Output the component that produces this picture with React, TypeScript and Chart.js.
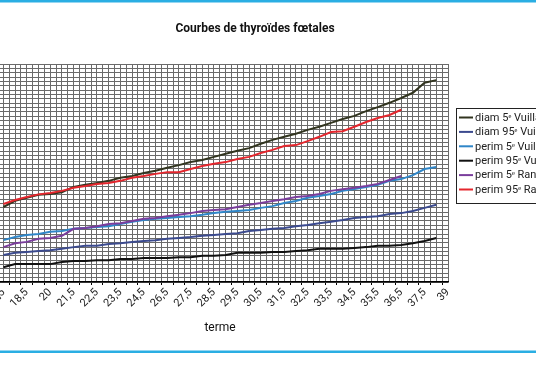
import React, { useEffect, useRef } from "react";
import { Chart, registerables } from "chart.js";

Chart.register(...registerables);

// Gestational age categories (weeks)
const categories = [
  "17.5", "18", "18.5", "19", "20", "21", "21.5", "22", "22.5", "23",
  "23.5", "24", "24.5", "25.5", "26.5", "27", "27.5", "28", "28.5", "29",
  "29.5", "30", "30.5", "31", "31.5", "32", "32.5", "33", "33.5", "34",
  "34.5", "35", "35.5", "36", "36.5", "37", "37.5", "38", "39",
];

const diam5Vuillard = [
  17.2, 18.6, 19.3, 20.0, 20.2, 20.6, 21.8, 22.3, 22.7, 23.2,
  23.9, 24.3, 25.0, 25.5, 26.2, 26.8, 27.5, 28.0, 28.7, 29.4,
  30.1, 30.7, 31.7, 32.6, 33.3, 34.0, 34.9, 35.6, 36.5, 37.4,
  38.1, 39.2, 40.1, 41.1, 42.2, 43.4, 45.7, 46.3,
];
const diam95Vuillard = [
  6.2, 6.7, 6.9, 7.1, 7.3, 7.6, 8.0, 8.3, 8.3, 8.7,
  8.9, 9.2, 9.4, 9.6, 9.9, 10.1, 10.3, 10.6, 10.8, 11.0,
  11.2, 11.7, 11.9, 12.2, 12.4, 12.8, 13.1, 13.5, 13.8, 14.2,
  14.7, 14.9, 15.1, 15.6, 15.8, 16.3, 17.0, 17.7,
];
const perim5Vuillard = [
  9.6, 10.3, 10.8, 11.0, 11.5, 11.7, 12.2, 12.4, 12.6, 12.8,
  13.3, 13.8, 14.2, 14.5, 14.7, 14.9, 15.1, 15.4, 15.8, 16.1,
  16.3, 16.5, 17.0, 17.4, 18.1, 18.6, 19.3, 19.7, 20.2, 20.9,
  21.3, 21.8, 22.3, 23.2, 23.6, 24.5, 25.9, 26.4,
];
const perim95Vuillard = [
  3.4, 4.1, 4.1, 4.1, 4.1, 4.6, 4.8, 4.8, 5.0, 5.0,
  5.3, 5.3, 5.5, 5.5, 5.5, 5.7, 5.7, 6.0, 6.0, 6.2,
  6.7, 6.7, 6.7, 6.9, 6.9, 7.1, 7.3, 7.6, 7.6, 7.6,
  7.8, 8.0, 8.3, 8.3, 8.5, 8.9, 9.4, 10.1,
];
const perim5Ranzini = [
  8.0, 8.9, 9.2, 9.9, 10.1, 10.6, 12.2, 12.4, 12.8, 13.3,
  13.5, 14.0, 14.5, 14.7, 15.1, 15.4, 15.8, 16.3, 16.5, 16.7,
  17.2, 17.7, 18.1, 18.6, 19.0, 19.5, 19.7, 20.2, 20.9, 21.3,
  21.6, 22.0, 22.5, 23.4, 24.3,
];
const perim95Ranzini = [
  17.9, 18.8, 19.5, 20.1, 20.4, 20.9, 21.6, 22.0, 22.5, 22.7,
  23.2, 23.9, 24.3, 24.8, 25.2, 25.2, 25.9, 26.6, 27.1, 27.5,
  28.2, 28.7, 29.6, 30.3, 31.2, 31.4, 32.3, 33.3, 34.4, 34.6,
  35.6, 36.7, 37.6, 38.3, 39.5,
];

const seriesLabels = [
  "diam 5ᵉ Vuillard",
  "diam 95ᵉ Vuillard",
  "perim 5ᵉ Vuillard",
  "perim 95ᵉ Vuillard",
  "perim 5ᵉ Ranzini",
  "perim 95ᵉ Ranzini",
];
const seriesValues = [
  diam5Vuillard,
  diam95Vuillard,
  perim5Vuillard,
  perim95Vuillard,
  perim5Ranzini,
  perim95Ranzini,
];
const seriesColors = ["#31341f", "#3b4a8e", "#2f86c8", "#111111", "#7a3d9c", "#e4262d"];

const TITLE = "Courbes de thyroïdes fœtales";
const X_TITLE = "terme";

const decorPlugin = {
  id: "decor",
  afterDraw(chart: any) {
    const ctx = chart.ctx as CanvasRenderingContext2D;
    ctx.save();
    // cyan frame lines
    ctx.fillStyle = "#2aaee3";
    ctx.fillRect(0, 0, 536, 2.5);
    ctx.fillRect(0, 350.5, 536, 2.5);

    // title
    ctx.fillStyle = "#111";
    ctx.font = "bold 12px Roboto";
    ctx.textAlign = "center";
    ctx.textBaseline = "middle";
    ctx.fillText(TITLE, 255, 29);

    // x axis title
    ctx.font = "12px Roboto";
    ctx.fillText(X_TITLE, 220, 328);

    // legend box
    ctx.strokeStyle = "#222";
    ctx.lineWidth = 1;
    ctx.strokeRect(456.5, 108.5, 100, 95);
    ctx.font = "11px Roboto";
    ctx.textAlign = "left";
    chart.data.datasets.forEach((ds: any, i: number) => {
      const y = 117.5 + i * 14.4;
      ctx.strokeStyle = ds.borderColor;
      ctx.lineWidth = 2;
      ctx.beginPath();
      ctx.moveTo(459, y);
      ctx.lineTo(473, y);
      ctx.stroke();
      ctx.fillStyle = "#222";
      ctx.fillText(ds.label, 475, y + 0.5);
    });
    ctx.restore();
  },
};

export default function App() {
  const ref = useRef<HTMLCanvasElement>(null);
  useEffect(() => {
    const canvas = ref.current;
    if (!canvas) return;
    const datasets = seriesLabels.map((label, k) => ({
      label,
      data: seriesValues[k].map((v, i) => ({ x: i, y: v })),
      borderColor: seriesColors[k],
      backgroundColor: seriesColors[k],
      borderWidth: 2,
      pointRadius: 0,
      tension: 0,
      fill: false,
      order: 10 - k,
    }));
    const chart = new Chart(canvas, {
      type: "line",
      data: { datasets },
      options: {
        responsive: false,
        animation: false,
        devicePixelRatio: 1,
        layout: { padding: { top: 64, right: 88, bottom: 0, left: 0 } },
        plugins: {
          legend: { display: false },
          tooltip: { enabled: false },
          title: { display: false },
        },
        scales: {
          x: {
            type: "linear",
            min: -0.29,
            max: 38,
            grid: {
              color: "#6a6a6a",
              lineWidth: 1,
              tickLength: 3,
              tickColor: (c: any) =>
                c.tick && Math.abs(c.tick.value - Math.round(c.tick.value)) < 1e-6
                  ? "rgba(0,0,0,0)"
                  : "#000",
            },
            border: { color: "#000", width: 1.5 },
            ticks: {
              stepSize: 0.5,
              autoSkip: false,
              includeBounds: false,
              maxRotation: 45,
              minRotation: 45,
              padding: 1,
              color: "#222",
              font: { family: "Roboto", size: 11 },
              callback: (value: any) => {
                const v = Number(value);
                const r = Math.round(v);
                if (Math.abs(v - r) < 1e-6 && r % 2 === 0 && categories[r]) {
                  return categories[r].replace(".", ",");
                }
                return "";
              },
            },
            afterFit: (s: any) => {
              s.height = 104;
              s.paddingLeft = 0;
              s.paddingRight = 0;
            },
          },
          y: {
            min: 0,
            max: 50,
            ticks: { display: false, stepSize: 1 },
            grid: { color: "#6a6a6a", lineWidth: 1, drawTicks: false },
            border: { display: false },
            afterFit: (s: any) => {
              s.width = 0;
            },
          },
        },
      } as any,
      plugins: [decorPlugin],
    });
    return () => chart.destroy();
  }, []);
  return (
    <div style={{ position: "absolute", left: 0, top: 0, width: 536, height: 386, overflow: "hidden", background: "#fff" }}>
      <canvas ref={ref} width={536} height={386} style={{ display: "block" }} />
    </div>
  );
}
